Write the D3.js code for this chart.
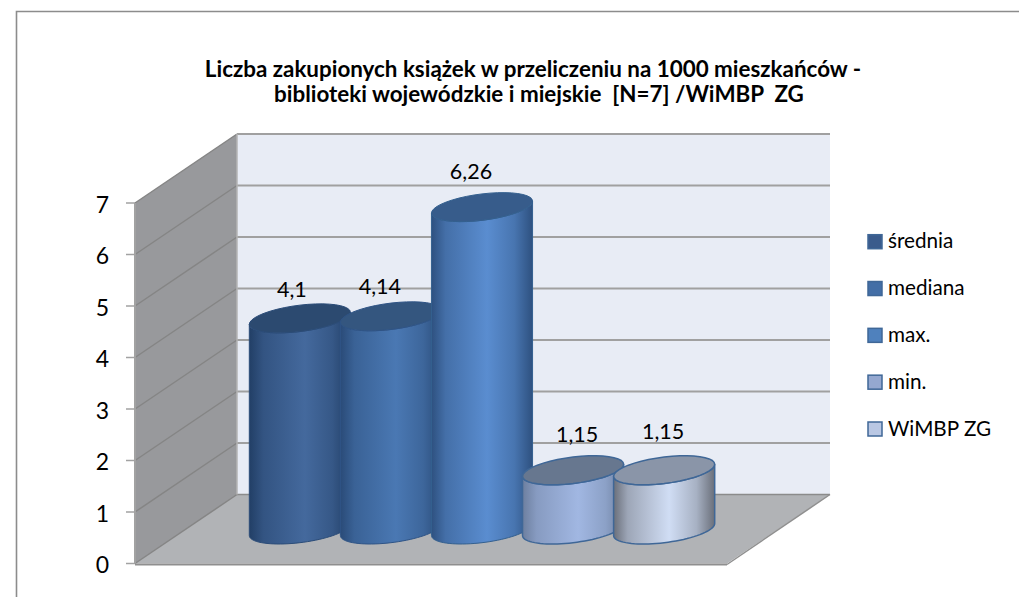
<!DOCTYPE html>
<html><head><meta charset="utf-8">
<script src="https://cdn.jsdelivr.net/npm/d3@7"></script>
<style>html,body{margin:0;background:#fff}svg{display:block}text{font-family:Lato,"Open Sans",sans-serif;fill:#000}</style>
</head><body><svg id="c" width="1019" height="597"></svg>
<script>
const categories = ["średnia","mediana","max.","min.","WiMBP ZG"];
const values = [4.1,4.14,6.26,1.15,1.15];
const valueLabels = ["4,1","4,14","6,26","1,15","1,15"];
const yTicks = [0,1,2,3,4,5,6,7];
const titleLines = ["Liczba zakupionych książek w przeliczeniu na 1000 mieszkańców -","biblioteki wojewódzkie i miejskie  [N=7] /WiMBP  ZG"];
const edgeColors = ["#223f66","#2a4b78","#2e5180","#6d7f9f","#6a6f7a"];
const midColors = ["#44699d","#4a78b3","#5a8dd0","#a1b7e2","#d0ddf4"];
const capColors = ["#2c4a70","#34567f","#375c8b","#67778f","#8a95a8"];
const strokeColors = ["#2b4c78","#2f5486","#34608f","#3f6797","#3f6797"];
const swatchColors = ["#3a5b8c","#436ea6","#4f81bd","#95a8d0","#b9c7e3"];

const svg = d3.select("#c");
const depthX = 102, depthY = -69;
const y = d3.scaleLinear().domain([0,7]).range([563.5,203]);
const frontL = 135, frontR = 727;
const x = d3.scaleBand().domain(categories).range([frontL+depthX/2, frontR+depthX/2]).paddingInner(0).paddingOuter(0.75);

// frame: top and left edges only
svg.append("path").attr("d","M16.5,597V11.5H1019").attr("fill","none").attr("stroke","#8c8c8c").attr("stroke-width",1.6);

// walls
const wall = "#e8ecf5", side="#98999c", floor="#b1b3b6", grid="#a2a2a2", sideLine="#858585";
svg.append("rect").attr("x",frontL+depthX).attr("y",y(7)+depthY).attr("width",frontR-frontL+1).attr("height",y(0)-y(7)).attr("fill",wall);
svg.append("path").attr("d",`M${frontL},${y(0)}L${frontL},${y(7)}L${frontL+depthX},${y(7)+depthY}L${frontL+depthX},${y(0)+depthY}Z`).attr("fill",side);
svg.append("path").attr("d",`M${frontL},${y(0)}L${frontL+depthX},${y(0)+depthY}L${frontR+depthX+1},${y(0)+depthY}L${frontR},${y(0)}Z`).attr("fill",floor);

yTicks.forEach(t=>{
  const yy=y(t);
  svg.append("line").attr("x1",frontL+depthX).attr("x2",frontR+depthX+1).attr("y1",yy+depthY).attr("y2",yy+depthY)
     .attr("stroke",t>0?"#a0a0a0":"#8b8b8b").attr("stroke-width",t>0?2:1.5);
  svg.append("line").attr("x1",frontL).attr("x2",frontL+depthX).attr("y1",yy).attr("y2",yy+depthY).attr("stroke",sideLine).attr("stroke-width",1.5);
  svg.append("line").attr("x1",frontL-9).attr("x2",frontL).attr("y1",yy).attr("y2",yy).attr("stroke",grid).attr("stroke-width",1.5);
  svg.append("text").attr("x",109).attr("y",yy+9.5).attr("text-anchor","end").attr("font-size",23).text(t);
});
svg.append("line").attr("x1",frontL).attr("x2",frontL).attr("y1",y(7)).attr("y2",y(0)).attr("stroke",grid).attr("stroke-width",2);
svg.append("line").attr("x1",frontL+depthX).attr("x2",frontL+depthX).attr("y1",y(7)+depthY).attr("y2",y(0)+depthY).attr("stroke","#b5b5b5").attr("stroke-width",1.5);
svg.append("line").attr("x1",frontL).attr("x2",frontR).attr("y1",y(0)+1).attr("y2",y(0)+1).attr("stroke","#8f8f8f").attr("stroke-width",2);
svg.append("line").attr("x1",frontR).attr("x2",frontR+depthX+1).attr("y1",y(0)+1).attr("y2",y(0)+depthY).attr("stroke","#8f8f8f").attr("stroke-width",1.5);

// gradients
const defs = svg.append("defs");
categories.forEach((c,i)=>{
  const g=defs.append("linearGradient").attr("id","g"+i);
  const mix=d3.interpolateRgb(edgeColors[i],midColors[i]);
  [[0,edgeColors[i]],[.14,mix(.5)],[.55,midColors[i]],[.82,mix(.6)],[1,edgeColors[i]]]
   .forEach(s=>g.append("stop").attr("offset",s[0]).attr("stop-color",s[1]));
});

// cylinders
const rx = x.bandwidth()*0.555, skew = 6, h = 13.2;
const base = y(0)+depthY/2+0.5;
const unit = y(0)-y(1);
const ell = (cx,cy,t)=>[cx+rx*Math.cos(t), cy-skew*Math.cos(t)-h*Math.sin(t)];
const line = d3.line();
const arc = (cx,cy,a,b)=>d3.range(0,41).map(k=>ell(cx,cy,a+(b-a)*k/40));
categories.forEach((c,i)=>{
  const cx = x(c)+x.bandwidth()/2, top = base-values[i]*unit;
  const pts = [...arc(cx,base,Math.PI,2*Math.PI), ...arc(cx,top,2*Math.PI,Math.PI)];
  svg.append("path").attr("d",line(pts)+"Z").attr("fill",`url(#g${i})`).attr("stroke",strokeColors[i]).attr("stroke-width",i>2?1.5:1);
  svg.append("path").attr("d",line(arc(cx,top,0,2*Math.PI))+"Z").attr("fill",capColors[i]).attr("stroke",strokeColors[i]).attr("stroke-width",i>2?1.5:1);
});
// data labels
const labelShiftX = [-8,-11,-11,4,-1], labelShiftY = [-21,-22,-28,-28.5,-31];
categories.forEach((c,i)=>{
  const cx = x(c)+x.bandwidth()/2, top = base-values[i]*unit;
  svg.append("text").attr("x",cx+labelShiftX[i]).attr("y",top+labelShiftY[i]).attr("text-anchor","middle").attr("font-size",21.5).text(valueLabels[i]);
});

// title
svg.append("text").attr("x",533).attr("y",76.5).attr("text-anchor","middle").attr("font-size",22.4).attr("font-weight",700).text(titleLines[0]);
svg.append("text").attr("x",539).attr("y",102).attr("text-anchor","middle").attr("font-size",22.4).attr("font-weight",700).attr("xml:space","preserve").text(titleLines[1]);

// legend
const legY = d3.scalePoint().domain(categories).range([241.7,429]);
categories.forEach((c,i)=>{
  svg.append("rect").attr("x",868).attr("y",legY(c)-7).attr("width",14).attr("height",14).attr("fill",swatchColors[i]).attr("stroke","#3f6797").attr("stroke-width",1.5);
  svg.append("text").attr("x",888).attr("y",legY(c)+6.5).attr("font-size",20.7).text(c);
});
</script></body></html>
